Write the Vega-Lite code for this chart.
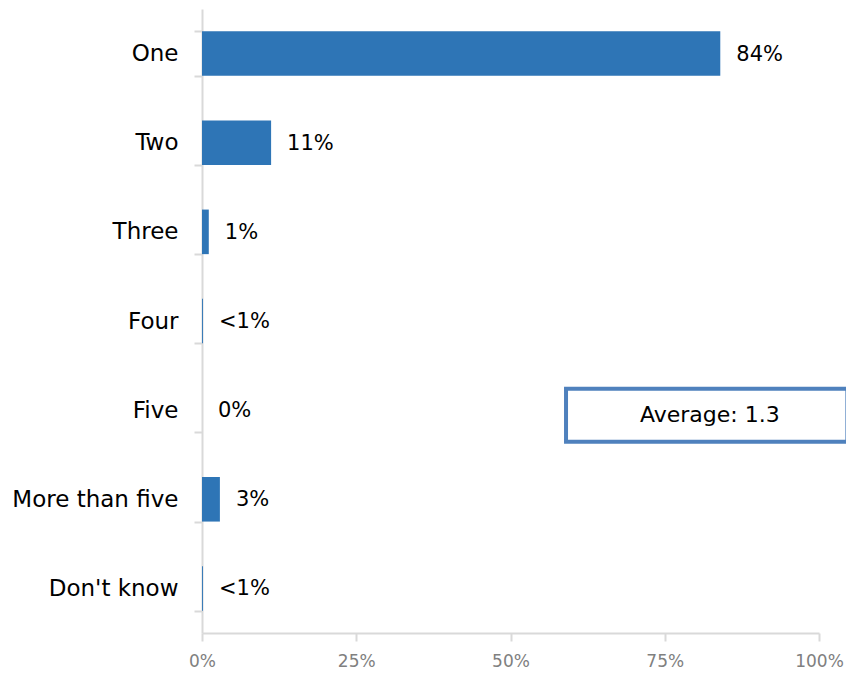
{
  "$schema": "https://vega.github.io/schema/vega-lite/v6.json",
  "width": 617,
  "height": 624,
  "padding": {"left": 202, "top": 9, "right": 27, "bottom": 40},
  "autosize": {"type": "none"},
  "background": "white",
  "config": {
    "font": "DejaVu Sans",
    "view": {"stroke": null}
  },
  "datasets": {
    "bars": [
      {"category": "One", "value": 84, "label": "84%"},
      {"category": "Two", "value": 11.2, "label": "11%"},
      {"category": "Three", "value": 1.1, "label": "1%"},
      {"category": "Four", "value": 0.15, "label": "<1%"},
      {"category": "Five", "value": 0, "label": "0%"},
      {"category": "More than five", "value": 2.9, "label": "3%"},
      {"category": "Don't know", "value": 0.15, "label": "<1%"}
    ],
    "box": [
      {"category": "Five", "start": 59, "end": 104.6, "mid": 82.3, "label": "Average: 1.3"}
    ]
  },
  "layer": [
    {
      "data": {"name": "bars"},
      "mark": {"type": "bar", "color": "#2E75B6"},
      "encoding": {
        "y": {
          "field": "category", "type": "nominal", "sort": null,
          "scale": {"paddingInner": 0.5, "paddingOuter": 0.25},
          "axis": {
            "title": null, "labelFontSize": 23, "labelColor": "#000000", "labelFont": "DejaVu Sans",
            "domainColor": "#D9D9D9", "domainWidth": 2, "tickColor": "#D9D9D9", "tickWidth": 2,
            "tickSize": 8, "tickBand": "extent", "labelPadding": 16
          }
        },
        "x": {
          "field": "value", "type": "quantitative",
          "scale": {"domain": [0, 100], "nice": false},
          "axis": {
            "title": null, "values": [0, 25, 50, 75, 100], "labelExpr": "datum.value + '%'",
            "labelFontSize": 17, "labelColor": "#808080", "grid": false, "labelFont": "DejaVu Sans",
            "domainColor": "#D9D9D9", "domainWidth": 2, "tickColor": "#D9D9D9", "tickWidth": 2,
            "tickSize": 8, "labelPadding": 12, "labelFlush": false
          }
        }
      }
    },
    {
      "data": {"name": "bars"},
      "mark": {"type": "text", "align": "left", "baseline": "middle", "dx": 16, "dy": 1, "fontSize": 21, "color": "#000000", "font": "DejaVu Sans"},
      "encoding": {
        "y": {"field": "category", "type": "nominal", "sort": null},
        "x": {"field": "value", "type": "quantitative"},
        "text": {"field": "label"}
      }
    },
    {
      "data": {"name": "box"},
      "mark": {"type": "bar", "fill": "white", "stroke": "#4F81BD", "strokeWidth": 4, "height": 53, "yOffset": 5, "clip": false},
      "encoding": {
        "y": {"field": "category", "type": "nominal", "sort": null},
        "x": {"field": "start", "type": "quantitative"},
        "x2": {"field": "end"}
      }
    },
    {
      "data": {"name": "box"},
      "mark": {"type": "text", "align": "center", "baseline": "middle", "fontSize": 22, "color": "#000000", "yOffset": 5, "font": "DejaVu Sans"},
      "encoding": {
        "y": {"field": "category", "type": "nominal", "sort": null},
        "x": {"field": "mid", "type": "quantitative"},
        "text": {"field": "label"}
      }
    }
  ]
}
